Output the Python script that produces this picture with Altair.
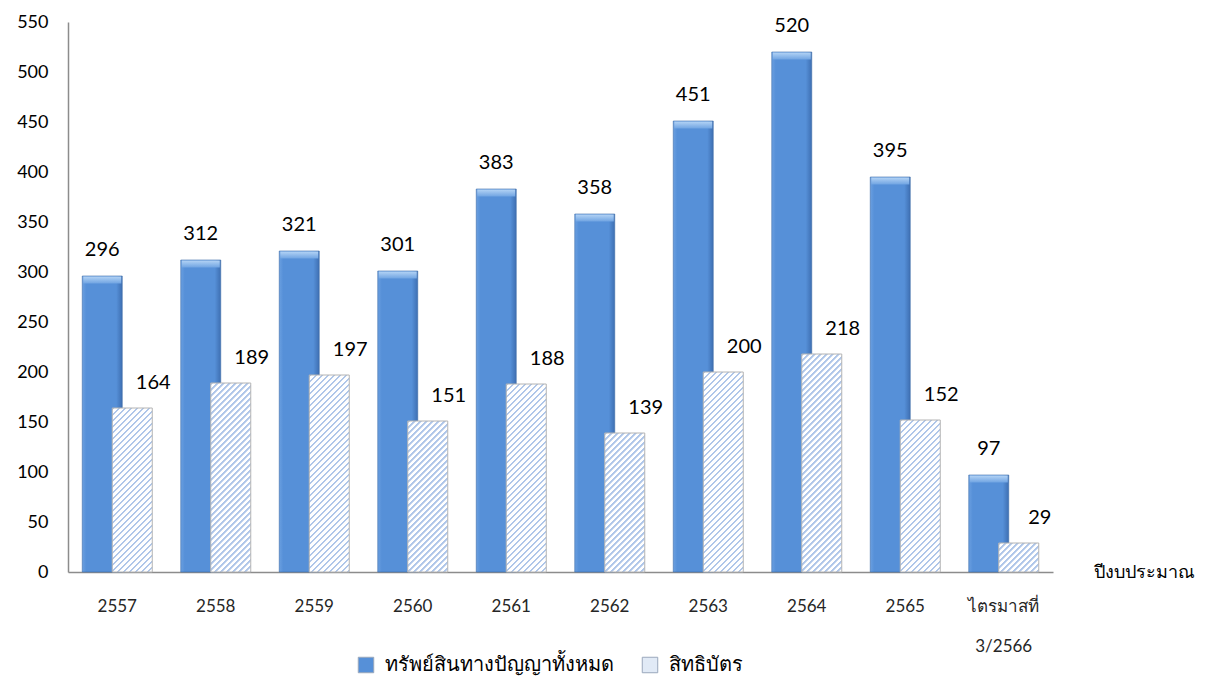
import altair as alt
import pandas as pd

# Fiscal years (last entry is the 3rd quarter of 2566, drawn on two lines)
years = ["2557", "2558", "2559", "2560", "2561", "2562", "2563", "2564", "2565",
         "ไตรมาสที่|3/2566"]
total_ip = [296, 312, 321, 301, 383, 358, 451, 520, 395, 97]
patents = [164, 189, 197, 151, 188, 139, 200, 218, 152, 29]

series_names = ["ทรัพย์สินทางปัญญาทั้งหมด", "สิทธิบัตร"]
y_ticks = [0, 50, 100, 150, 200, 250, 300, 350, 400, 450, 500, 550]

FONT = "Lato, Tahoma, 'Noto Sans', sans-serif"
BLUE = "#5690D8"
HATCH = "#E1EAF6"
STRIPE = "#AFC6E9"
BAR_W = 40
PLOT_H = 550
Y_MAX = 550

df = pd.DataFrame({"year": years, "total": total_ip, "patent": patents})

legend_df = pd.DataFrame({"series": series_names, "year": [years[0], years[0]],
                          "v": [0, 0]})


def hatch_fill(value, period=6.0, line=2.0):
    """Diagonal '/' stripes as a bounding-box linear gradient for one bar."""
    w = float(BAR_W)
    h = max(value * PLOT_H / Y_MAX, 1.0)
    span = w + h
    s = span / (w * w + h * h)
    stops = []
    k = 0.0
    while k < span:
        a = k / span
        b = min((k + line) / span, 1.0)
        c = min((k + line + 0.8) / span, 1.0)
        d = min((k + period) / span, 1.0)
        stops += [
            alt.GradientStop(offset=a, color=STRIPE),
            alt.GradientStop(offset=b, color=STRIPE),
            alt.GradientStop(offset=c, color="#FFFFFF"),
            alt.GradientStop(offset=d, color="#FFFFFF"),
        ]
        k += period
    return alt.Gradient(gradient="linear", x1=0, y1=0, x2=w * s, y2=h * s,
                        stops=stops)


x_enc = alt.X(
    "year:N",
    sort=years,
    scale=alt.Scale(paddingInner=0, paddingOuter=0),
    axis=alt.Axis(
        title="ปีงบประมาณ",
        titleX=1025, titleY=0, titleAlign="left", titleBaseline="middle",
        titleFontSize=18, titleFontWeight="normal", titleFont=FONT, titleColor="#000000",
        labelAngle=0, labelAlign="center", labelFontSize=17, labelFont=FONT,
        labelColor="#262626", labelPadding=34, labelLineHeight=40,
        labelExpr="split(datum.label, '|')",
        ticks=False, domainColor="#8C8C8C", domainWidth=1.5,
    ),
)

y_scale = alt.Scale(domain=[0, Y_MAX], nice=False)
y_axis = alt.Axis(
    title=None, values=y_ticks, grid=False, ticks=False,
    labelFontSize=18, labelFont=FONT, labelColor="#000000", labelPadding=20,
    domainColor="#8C8C8C", domainWidth=1.5,
)

blue_grad = alt.Gradient(
    gradient="linear", x1=0, y1=0, x2=1, y2=0,
    stops=[
        alt.GradientStop(offset=0, color="#6A9FE0"),
        alt.GradientStop(offset=0.1, color=BLUE),
        alt.GradientStop(offset=0.85, color=BLUE),
        alt.GradientStop(offset=1, color="#3E6FB2"),
    ],
)
cap_grad = alt.Gradient(
    gradient="linear", x1=0, y1=0, x2=0, y2=1,
    stops=[
        alt.GradientStop(offset=0, color="#B3D3F5"),
        alt.GradientStop(offset=1, color="#70A4E2"),
    ],
)

base = alt.Chart(df)
x_plain = alt.X("year:N", sort=years)

blue_bars = base.mark_bar(width=BAR_W, xOffset=-15, fill=blue_grad,
                          stroke="#3E6CA8", strokeWidth=0.6).encode(
    x=x_enc,
    y=alt.Y("total:Q", scale=y_scale, axis=y_axis),
)

blue_caps = base.mark_tick(size=BAR_W - 2, thickness=7, xOffset=-15, yOffset=4,
                           fill=cap_grad, opacity=1).encode(
    x=x_plain,
    y=alt.Y("total:Q"),
)

# One layer per patent bar so each gets a stripe pattern sized to its height
hatch_layers = [
    base.transform_filter(alt.datum.year == yr).mark_bar(
        width=BAR_W, xOffset=15, fill=hatch_fill(val),
        stroke="#B4B4B4", strokeWidth=1,
    ).encode(x=x_plain, y=alt.Y("patent:Q"))
    for yr, val in zip(years, patents)
]

blue_labels = base.mark_text(xOffset=-15, dy=-26, fontSize=20, font=FONT,
                             fontWeight="normal", color="#000000").encode(
    x=x_plain,
    y=alt.Y("total:Q"),
    text=alt.Text("total:Q"),
)

hatch_labels = base.mark_text(xOffset=36, dy=-25, fontSize=20, font=FONT,
                              fontWeight="normal", color="#000000").encode(
    x=x_plain,
    y=alt.Y("patent:Q"),
    text=alt.Text("patent:Q"),
)

# Zero-height marks that only carry the series legend
legend_layer = alt.Chart(legend_df).mark_bar(width=0, opacity=0).encode(
    x=x_plain,
    y=alt.Y("v:Q"),
    color=alt.Color(
        "series:N",
        sort=series_names,
        scale=alt.Scale(domain=series_names, range=[BLUE, HATCH]),
        legend=alt.Legend(
            title=None, orient="none", direction="horizontal",
            legendX=288, legendY=633,
            symbolType="square", symbolSize=240, symbolOpacity=1,
            symbolStrokeColor="#9AA8BC", symbolStrokeWidth=1,
            labelFontSize=20, labelFont=FONT, labelColor="#000000",
            labelLimit=0, columnPadding=26, labelOffset=9,
        ),
    ),
)

chart = alt.layer(
    legend_layer, blue_bars, blue_caps, *hatch_layers, blue_labels, hatch_labels
).properties(
    width=985, height=PLOT_H,
    autosize=alt.AutoSizeParams(type="none"),
    padding={"left": 68, "top": 22, "right": 163, "bottom": 105},
    background="white",
).configure_view(stroke=None)

chart.save("out.html", embed_options={"renderer": "svg", "actions": False})
